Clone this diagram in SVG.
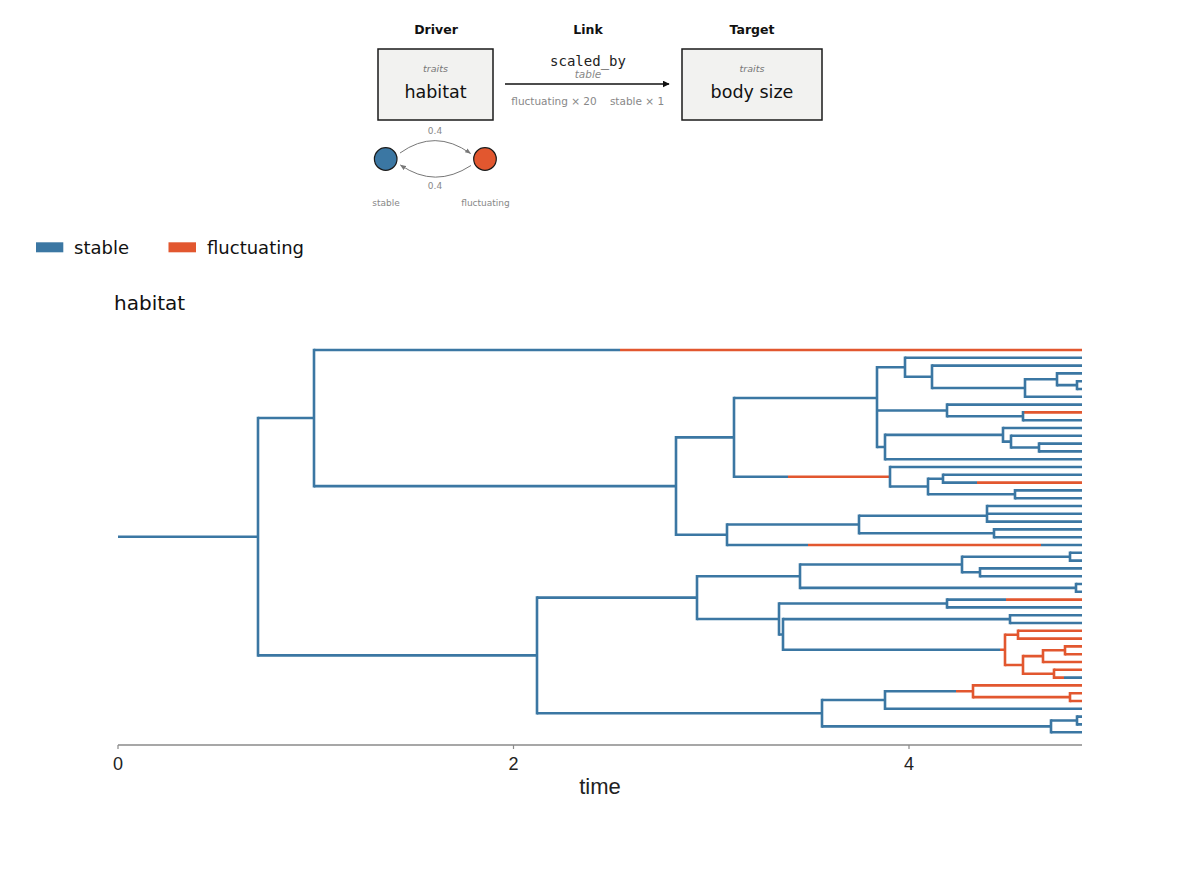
<svg xmlns="http://www.w3.org/2000/svg" width="1200" height="875" viewBox="0 0 1200 875">
<style>
  .hdr{font-family:"DejaVu Sans",sans-serif;font-weight:bold;font-size:12.5px;fill:#111;text-anchor:middle}
  .box{fill:#f2f2f0;stroke:#1a1a1a;stroke-width:1.5}
  .kind{font-family:"DejaVu Sans",sans-serif;font-style:italic;font-size:9.5px;fill:#777;text-anchor:middle}
  .name{font-family:"DejaVu Sans",sans-serif;font-size:17.5px;fill:#111;text-anchor:middle}
  .mono{font-family:"DejaVu Sans Mono",monospace;font-size:14px;fill:#222;text-anchor:middle}
  .note{font-family:"DejaVu Sans",sans-serif;font-size:10.5px;fill:#888;text-anchor:middle}
  .small{font-family:"DejaVu Sans",sans-serif;font-size:9px;fill:#888;text-anchor:middle}
  .leg{font-family:"DejaVu Sans",sans-serif;font-size:18px;fill:#111}
  .ttl{font-family:"DejaVu Sans",sans-serif;font-size:20px;fill:#111}
  .ax{font-family:"Liberation Sans",Arial,sans-serif;fill:#222;text-anchor:middle}
  .b{fill:none;stroke:#3b77a3;stroke-width:2.6}
  .r{fill:none;stroke:#e2572f;stroke-width:2.6}
  .v{stroke-linecap:square}
</style>
<defs>
  <marker id="bigArrow" viewBox="0 0 10 10" refX="9" refY="5" markerWidth="7" markerHeight="7" orient="auto" markerUnits="userSpaceOnUse">
    <path d="M0,0 L10,5 L0,10 z" fill="#111"/>
  </marker>
  <marker id="smallArrow" viewBox="0 0 10 10" refX="9" refY="5" markerWidth="6" markerHeight="6" orient="auto" markerUnits="userSpaceOnUse">
    <path d="M0,1 L10,5 L0,9 z" fill="#777"/>
  </marker>
</defs>
<rect width="1200" height="875" fill="#ffffff"/>

<!-- header -->
<text class="hdr" x="436" y="33.5">Driver</text>
<text class="hdr" x="588" y="33.5">Link</text>
<text class="hdr" x="752" y="33.5">Target</text>

<g id="driver">
  <rect class="box" x="378" y="49" width="115" height="71"/>
  <text class="kind" x="435.5" y="72">traits</text>
  <text class="name" x="435.5" y="97.5">habitat</text>
</g>
<g id="target">
  <rect class="box" x="682" y="49" width="140" height="71"/>
  <text class="kind" x="752" y="72">traits</text>
  <text class="name" x="752" y="97.5">body size</text>
</g>
<g id="connectors">
  <line x1="505" y1="84" x2="669" y2="84" stroke="#111" stroke-width="1.5" marker-end="url(#bigArrow)"/>
  <text class="mono" x="588" y="66">scaled_by</text>
  <text class="note" x="588" y="78" font-style="italic">table</text>
  <text class="note" x="554" y="104.5">fluctuating × 20</text>
  <text class="note" x="637" y="104.5">stable × 1</text>
  <path d="M400,153 Q435,128 470.5,153.5" fill="none" stroke="#777" stroke-width="1" marker-end="url(#smallArrow)"/>
  <path d="M471,165.5 Q435,189 400.5,165" fill="none" stroke="#777" stroke-width="1" marker-end="url(#smallArrow)"/>
  <text class="small" x="435" y="134">0.4</text>
  <text class="small" x="435" y="188.5">0.4</text>
</g>
<g id="state-stable">
  <circle cx="385.7" cy="159" r="11.3" fill="#3b77a3" stroke="#1a1a1a" stroke-width="1.2"/>
  <text class="small" x="386" y="205.5">stable</text>
</g>
<g id="state-fluctuating">
  <circle cx="485" cy="159" r="11.3" fill="#e2572f" stroke="#1a1a1a" stroke-width="1.2"/>
  <text class="small" x="485.5" y="205.5">fluctuating</text>
</g>

<!-- legend -->
<g id="legend">
  <rect x="36" y="242.3" width="27.3" height="10" fill="#3b77a3"/>
  <text class="leg" x="74" y="253.5">stable</text>
  <rect x="168.5" y="242.3" width="27.5" height="10" fill="#e2572f"/>
  <text class="leg" x="207" y="253.5">fluctuating</text>
</g>

<text class="ttl" x="114" y="310">habitat</text>

<!-- tree -->
<g id="tree">
<path class="b" d="M118 536.72H258M258 418.04H314M258 655.39H537M314 350H620M314 486.08H676M676 437.39H734M676 534.76H727M734 398.02H877M734 476.75H788M877 367.31H905M877 410.45H947M877 447.01H885M905 357.8H1082M905 376.81H932M932 365.6H1082M932 388.03H1025M1025 379.25H1057M1025 396.8H1082M1057 373.4H1082M1057 385.1H1077M1077 381.2H1082M1077 389H1082M947 404.6H1082M947 416.3H1023M1023 420.2H1082M885 434.83H1003M885 459.2H1082M1003 428H1082M1003 441.65H1011M1011 435.8H1082M1011 447.5H1039M1039 443.6H1082M1039 451.4H1082M890 467H1082M890 486.5H928M928 478.7H943M928 494.3H1015M943 474.8H1082M943 482.6H977M1015 490.4H1082M1015 498.2H1082M727 524.53H859M727 545H808M1041 545H1082M859 515.75H987M859 533.3H994M987 521.6H1082M987 506H1082M987 513.8H1082M994 529.4H1082M994 537.2H1082M537 597.59H697M537 713.19H822M697 576.2H800M697 618.98H779M800 564.5H962M800 587.9H1076M962 556.7H1070M962 572.3H980M1070 552.8H1082M1070 560.6H1082M980 568.4H1082M980 576.2H1082M1076 584H1082M1076 591.8H1082M779 603.5H947M779 634.46H783M947 599.6H1006M947 607.4H1082M783 619.1H1010M783 649.81H1000M1010 615.2H1082M1010 623H1082M1064 677.6H1082M822 700.03H885M822 726.35H1051M885 691.25H956M885 708.8H1082M1051 720.5H1077M1051 732.2H1082M1077 716.6H1082M1077 724.4H1082"/>
<path class="r" d="M620 350H1082M788 476.75H890M1023 412.4H1082M977 482.6H1082M808 545H1041M1006 599.6H1082M1000 649.81H1005M1005 634.7H1018M1005 664.93H1023M1018 630.8H1082M1018 638.6H1082M1023 656.15H1043M1023 673.7H1054M1043 650.3H1065M1043 662H1082M1065 646.4H1082M1065 654.2H1082M1054 669.8H1082M1054 677.6H1064M956 691.25H973M973 685.4H1082M973 697.1H1070M1070 693.2H1082M1070 701H1082"/>
<path class="b v" d="M258 418.04V655.39M314 350V486.08M676 437.39V534.76M734 398.02V476.75M877 367.31V447.01M905 357.8V376.81M932 365.6V388.03M1025 379.25V396.8M1057 373.4V385.1M1077 381.2V389M947 404.6V416.3M1023 412.4V420.2M885 434.83V459.2M1003 428V441.65M1011 435.8V447.5M1039 443.6V451.4M890 467V486.5M928 478.7V494.3M943 474.8V482.6M1015 490.4V498.2M727 524.53V545M859 515.75V533.3M987 506V521.6M994 529.4V537.2M537 597.59V713.19M697 576.2V618.98M800 564.5V587.9M962 556.7V572.3M1070 552.8V560.6M980 568.4V576.2M1076 584V591.8M779 603.5V634.46M947 599.6V607.4M783 619.1V649.81M1010 615.2V623M822 700.03V726.35M885 691.25V708.8M1051 720.5V732.2M1077 716.6V724.4"/>
<path class="r v" d="M1005 634.7V664.93M1018 630.8V638.6M1023 656.15V673.7M1043 650.3V662M1065 646.4V654.2M1054 669.8V677.6M973 685.4V697.1M1070 693.2V701"/>
</g>

<!-- axis -->
<g id="axis">
  <line x1="118" y1="745" x2="1082" y2="745" stroke="#8a8a8a" stroke-width="1.6"/>
  <path d="M118 745V749M513.5 745V749M909 745V749" stroke="#8a8a8a" stroke-width="1.2"/>
  <text class="ax" x="118" y="770" font-size="18">0</text>
  <text class="ax" x="513.5" y="770" font-size="18">2</text>
  <text class="ax" x="909" y="770" font-size="18">4</text>
  <text class="ax" x="600" y="794" font-size="22">time</text>
</g>
</svg>
